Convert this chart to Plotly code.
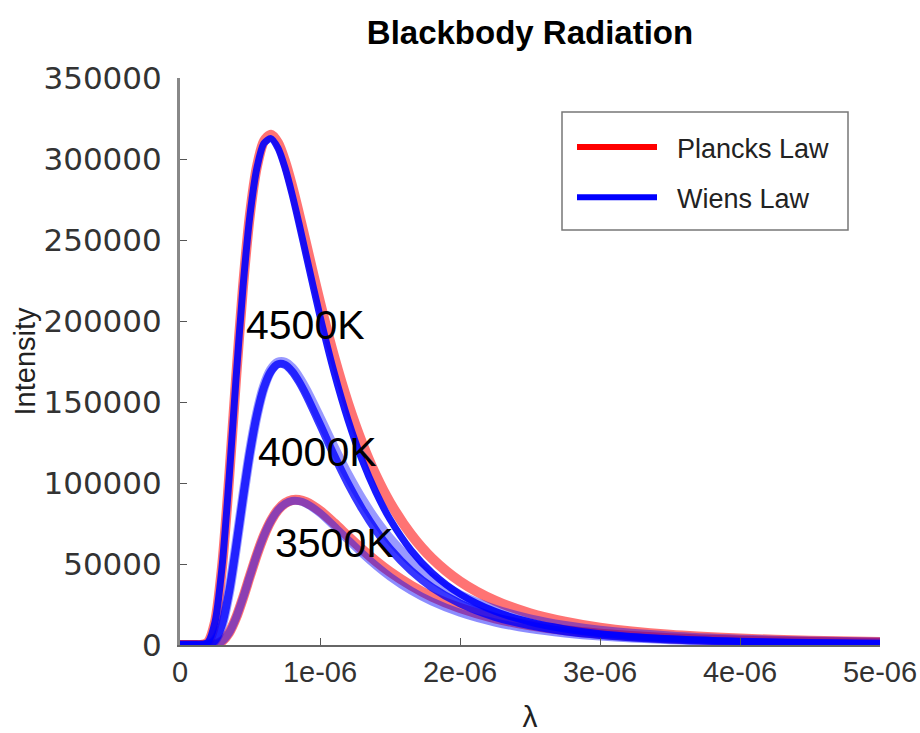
import plotly.graph_objects as go

# wavelength samples (micrometres) read along the x axis
lam_um = [0, 0.1, 0.15, 0.2, 0.25, 0.3, 0.35, 0.4, 0.45, 0.5, 0.55, 0.6, 0.65, 0.7, 0.75,
          0.8, 0.85, 0.9, 1.0, 1.1, 1.2, 1.3, 1.4, 1.5, 1.65, 1.8, 2.0, 2.25, 2.5, 2.75,
          3.0, 3.5, 4.0, 4.5, 5.0]

planck_4500 = [0, 0, 0, 1800, 14200, 48000, 102000, 164000, 221000, 266000, 295500, 311000,
               315000, 310000, 298700, 283600, 266300, 248000, 211600, 178300, 149400, 125000,
               104700, 88000, 68300, 53500, 39300, 27400, 19600, 14400, 10700, 6300, 4000, 2600, 1800]
wien_4500 = [0, 0, 0, 1800, 14200, 48000, 102000, 164000, 221000, 265500, 294700, 309700,
             312600, 306700, 294500, 278400, 260100, 240900, 202900, 168500, 139000, 114300,
             94100, 77600, 58500, 44500, 31400, 20800, 14200, 9900, 7000, 3800, 2200, 1300, 800]
planck_4000 = [0, 0, 0, 240, 2900, 12700, 32500, 60300, 90900, 119400, 142700, 159500,
               169700, 174300, 174300, 170800, 164900, 157400, 139900, 121800, 104800, 89700,
               76600, 65400, 51700, 41200, 30800, 21800, 15800, 11700, 8800, 5300, 3300, 2200, 1500]
wien_4000 = [0, 0, 0, 240, 2900, 12700, 32500, 60300, 90900, 119300, 142500, 159100,
             169000, 173300, 172900, 168900, 162500, 154500, 136100, 117200, 99600, 84100,
             70700, 59400, 45900, 35600, 25700, 17400, 12100, 8500, 6200, 3400, 2000, 1200, 800]
planck_3500 = [0, 0, 0, 20, 370, 2300, 7500, 16700, 29000, 42700, 56000, 67600, 76800, 83400,
               87500, 89400, 89500, 88200, 82800, 75300, 67100, 59100, 51700, 45100, 36700,
               29800, 22800, 16500, 12200, 9100, 7000, 4200, 2700, 1800, 1200]
wien_3500 = [0, 0, 0, 20, 370, 2300, 7500, 16700, 29000, 42700, 56000, 67600, 76700, 83200,
             87100, 88900, 88800, 87300, 81400, 73400, 64900, 56600, 49000, 42200, 33600,
             26800, 19900, 13900, 9800, 7100, 5200, 2900, 1700, 1100, 700]

temp_labels = ["4500K", "4000K", "3500K"]
label_lam_um = [0.893, 0.98, 1.1]
label_int = [197500, 119000, 63000]

x_tick_vals = [0, 1e-6, 2e-6, 3e-6, 4e-6, 5e-6]
x_tick_text = ["0", "1e-06", "2e-06", "3e-06", "4e-06", "5e-06"]
y_tick_vals = [0, 50000, 100000, 150000, 200000, 250000, 300000, 350000]
y_tick_text = ["0", "50000", "100000", "150000", "200000", "250000", "300000", "350000"]

lam = [v * 1e-6 for v in lam_um]

fig = go.Figure()

def add_curve(y, color, width):
    fig.add_trace(go.Scatter(x=lam, y=y, mode="lines", showlegend=False, hoverinfo="skip",
                             line=dict(color=color, width=width, shape="spline", smoothing=0.8)))

add_curve(planck_4500, "rgba(255,0,0,0.55)", 10)
add_curve(planck_3500, "rgba(255,0,0,0.55)", 10)
add_curve(planck_4000, "rgba(0,0,255,0.40)", 10)
add_curve(wien_4000, "rgba(0,0,255,0.78)", 8)
add_curve(wien_3500, "rgba(0,0,255,0.45)", 8)
add_curve(wien_4500, "rgba(0,0,255,0.90)", 7)

# legend entries
fig.add_trace(go.Scatter(x=[None], y=[None], mode="lines", name="\u00a0\u00a0Plancks Law",
                         legendgroup="p", line=dict(color="red", width=6)))
fig.add_trace(go.Scatter(x=[None], y=[None], mode="lines", name="\u00a0\u00a0Wiens Law",
                         legendgroup="w", line=dict(color="blue", width=6)))

for t, lx, ly in zip(temp_labels, label_lam_um, label_int):
    fig.add_annotation(x=lx * 1e-6, y=ly, text=t, showarrow=False, xanchor="center",
                       yanchor="middle", font=dict(family="Liberation Sans", size=41, color="black"))

# legend frame (pixels -> paper fractions of the 700x567 plot area)
fig.add_shape(type="rect", xref="paper", yref="paper",
              x0=(562 - 180) / 700, x1=(848 - 180) / 700,
              y0=(645 - 230) / 567, y1=(645 - 112) / 567,
              line=dict(color="#777", width=1.5), fillcolor="white", layer="below")

fig.update_layout(
    width=920, height=733,
    margin=dict(l=180, r=40, t=78, b=88),
    paper_bgcolor="white", plot_bgcolor="white",
    title=dict(text="<b>Blackbody Radiation</b>", x=0.5, xref="paper", xanchor="center",
               y=1 - 32 / 733, yref="container", yanchor="middle",
               font=dict(family="Liberation Sans", size=33, color="black")),
    legend=dict(x=(572 - 180) / 700, y=(645 - 123) / 567, xanchor="left", yanchor="top",
                bgcolor="rgba(0,0,0,0)", borderwidth=0, itemwidth=80,
                traceorder="grouped", tracegroupgap=12,
                font=dict(family="Liberation Sans", size=27, color="#222")),
    xaxis=dict(range=[0, 5e-6], tickvals=x_tick_vals, ticktext=x_tick_text, automargin=False,
               ticks="inside", ticklen=7, tickcolor="#555", tickwidth=1,
               showline=True, linecolor="#666", linewidth=2, showgrid=False, zeroline=False,
               ticklabelstandoff=0,
               tickfont=dict(family="Liberation Sans", size=29, color="#333"),
               title=dict(text="λ", standoff=20,
                          font=dict(family="Liberation Sans", size=30, color="#222"))),
    yaxis=dict(range=[0, 350000], tickvals=y_tick_vals, ticktext=y_tick_text, automargin=False,
               ticks="inside", ticklen=7, tickcolor="#555", tickwidth=1,
               showline=True, linecolor="#888", linewidth=3, showgrid=False, zeroline=False,
               ticklabelstandoff=9,
               tickfont=dict(family="DejaVu Sans", size=31, color="#333"),
               title=dict(text="Intensity", standoff=0,
                          font=dict(family="Liberation Sans", size=29, color="#222"))),
)

fig.write_html("out.html")
